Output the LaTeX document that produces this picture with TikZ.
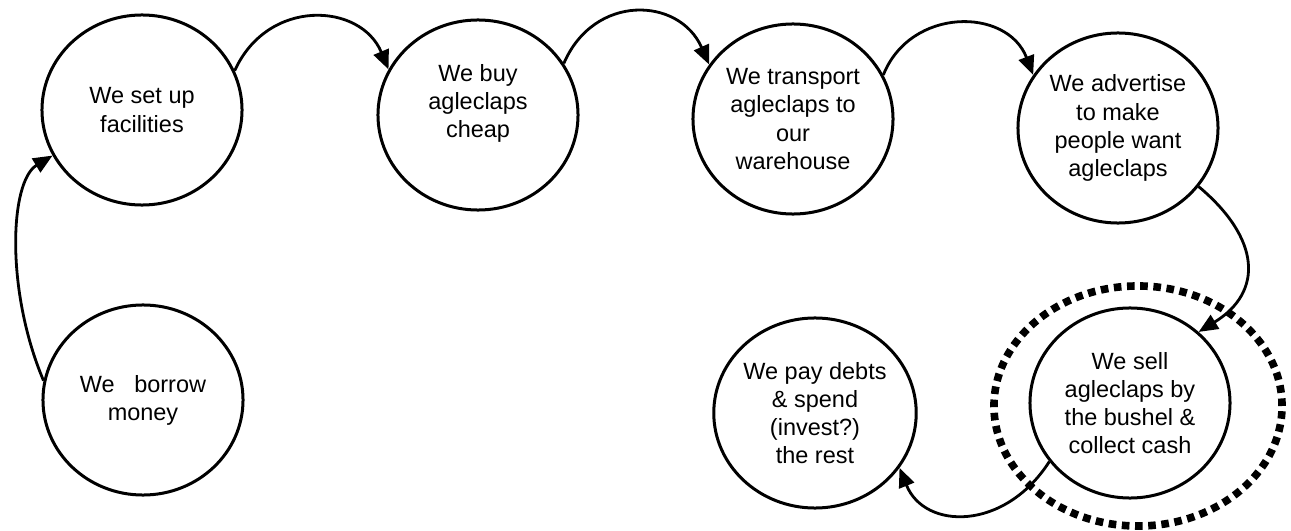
\documentclass[tikz,border=0pt]{standalone}
\usepackage{fontspec}
\setmainfont{Liberation Sans}
\usetikzlibrary{shapes.geometric}
\usetikzlibrary{arrows.meta}

\begin{document}
\begin{tikzpicture}[x=0.025cm, y=-0.025cm,
        stage/.style={draw, ellipse, line width=0.075cm, minimum width=5cm, minimum height=4.75cm,
            inner sep=0pt, align=center, font=\fontsize{16.7pt}{20pt}\selectfont},
        flow/.style={-{Triangle[length=0.48cm, width=0.4cm]}, line width=0.07cm}]
    \useasboundingbox (0,0) rectangle (1291,531);

    % Top row of steps
    \node[stage] (setup) at (142,110) {We set up\\facilities};
    \node[stage] (buy) at (478,115) {We buy\\agleclaps\\cheap\\\mbox{}};
    \node[stage] (transport) at (793,119) {We transport\\agleclaps to\\our\\warehouse};
    \node[stage] (advertise) at (1118,128) {We advertise\\to make\\people want\\agleclaps};

    % Bottom row of steps
    \node[stage] (borrow) at (143,400) {We\ \ \ borrow\\money};
    \node[stage] (pay) at (815,413) {We pay debts\\\& spend\\(invest?)\\the rest};
    \node[stage] (sell) at (1130,403) {We sell\\agleclaps by\\the bushel \&\\collect cash};

    % Dotted ring round the selling step
    \node[draw, ellipse, line width=0.19cm, dash pattern=on 0.19cm off 0.14cm,
        minimum width=7.2cm, minimum height=6cm] (ring) at (1138,406) {};

    \draw[flow] (borrow.169) .. controls +(-38,-90) and +(-43,26) .. (setup.207);
    \draw[flow] (setup.23) .. controls +(33,-73) and +(-28,-67) .. (buy.153);
    \draw[flow] (buy.31) .. controls +(30,-70) and +(-30,-68) .. (transport.147);
    \draw[flow] (transport.26) .. controls +(27,-68) and +(-26,-68) .. (advertise.148);
    \draw[flow] (advertise.-36) .. controls +(62,52) and +(65,-40) .. (sell.46);
    \draw[flow] (sell.216) .. controls +(-45,70) and +(25,62) .. (pay.-33);
\end{tikzpicture}
\end{document}
